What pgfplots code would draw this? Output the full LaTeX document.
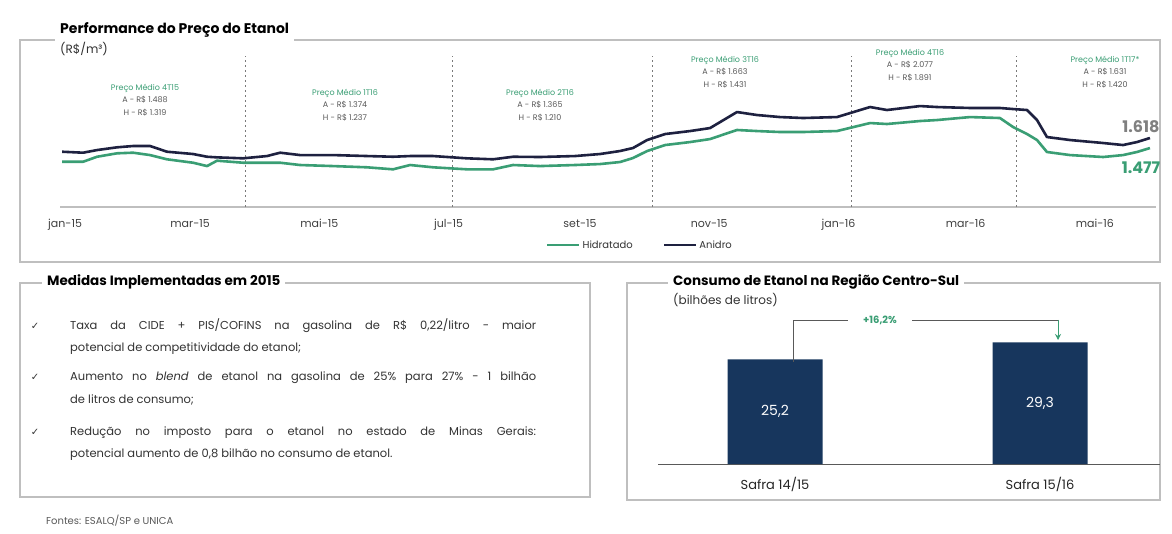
\documentclass[border=0pt]{standalone}
\usepackage{fontspec}
\setmainfont{Poppins}
\newfontfamily\dejavu{DejaVu Sans}
\usepackage{pgfplots}
\pgfplotsset{compat=1.18}
\usetikzlibrary{arrows.meta}

\definecolor{verde}{HTML}{3A9E74}
\definecolor{navy}{HTML}{1E2140}
\definecolor{barra}{HTML}{17365D}
\definecolor{cinza}{HTML}{595959}
\definecolor{borda}{HTML}{BFBFBF}

\newcommand{\fs}[1]{\fontsize{#1}{#1}\selectfont}
% quarter average prices
\newcommand{\preco}[5]{%
  \node[align=center, font=\fontsize{8}{12.5}\selectfont, text=cinza] at (#1,#2)
    {\textcolor{verde}{Preço Médio #3}\\ A - R\$ #4\\ H - R\$ #5};}

\begin{document}
\begin{tikzpicture}[x=1pt,y=1pt]
\fill[white] (0,0) rectangle (1172,533);

% ---------- top panel ----------
\draw[borda, line width=1.2pt] (20,271) rectangle (1160,493);
\node[anchor=west, fill=white, font=\bfseries\fs{14}, inner sep=5pt] at (55,503) {Performance do Preço do Etanol};
\node[anchor=west, font=\fs{12}, text=black!80, inner sep=0pt] at (60,484) {(R\$/m³)};

\begin{axis}[at={(60pt,326pt)}, anchor=south west, scale only axis,
  width=1096.3pt, height=157pt,
  xmin=-2.4, xmax=515, ymin=0.83, ymax=2.614,
  axis x line*=bottom, axis y line=none,
  x axis line style={draw=borda, line width=1.5pt, -},
  xtick={0,59,120,181,243,304,365,425,486},
  xticklabels={jan-15,mar-15,mai-15,jul-15,set-15,nov-15,jan-16,mar-16,mai-16},
  major tick length=0,
  tick label style={font=\fs{11}, text=black!75},
  xticklabel style={yshift=-9pt},
  clip=false,
  legend style={at={(0.529,-0.242)}, anchor=center, draw=none, fill=none,
    legend columns=2, font=\fs{10}, text=black!80,
    /tikz/every even column/.append style={column sep=28pt}},
  legend image code/.code={\draw[#1] (0pt,0pt) -- (32pt,0pt);},
]
\foreach \d in {85,183,277,371,449}{
  \edef\tmp{\noexpand\draw[cinza!80, line width=0.8pt, dash pattern=on 2pt off 3pt]
    (axis cs:\d,0.83) -- (axis cs:\d,2.55);}\tmp
}
\addplot[verde, line width=2.6pt, line join=round] coordinates {
(-1.4,1.344) (8.5,1.344) (15.1,1.401) (24.5,1.440) (32.1,1.447) (40.1,1.420)
(48.1,1.372) (60.4,1.333) (67.0,1.295) (71.7,1.356) (84.0,1.333) (95.3,1.333)
(101.5,1.333) (110.9,1.307) (126.5,1.295) (142.5,1.281) (154.8,1.258) (162.8,1.307)
(173.7,1.281) (189.7,1.258) (202.0,1.258) (211.4,1.307) (224.2,1.295) (240.7,1.307)
(252.5,1.318) (261.9,1.341) (268.0,1.386) (274.7,1.466) (283.2,1.534) (295.0,1.568)
(304.4,1.602) (317.1,1.705) (326.6,1.693) (337.4,1.682) (348.3,1.682) (364.3,1.693)
(379.9,1.784) (387.9,1.773) (403.5,1.807) (411.5,1.818) (427.1,1.852) (441.2,1.841)
(447.4,1.739) (454.0,1.659) (458.7,1.591) (463.4,1.455) (474.3,1.420) (489.9,1.398)
(499.3,1.420) (505.9,1.455) (512.0,1.500)
};
\addlegendentry{Hidratado}
\addplot[navy, line width=2.6pt, line join=round] coordinates {
(-1.4,1.458) (8.5,1.447) (15.1,1.477) (24.5,1.508) (32.1,1.523) (40.1,1.523)
(48.1,1.458) (60.4,1.432) (67.0,1.401) (71.7,1.394) (84.0,1.383) (95.3,1.409)
(101.5,1.447) (110.9,1.420) (126.5,1.420) (142.5,1.409) (154.8,1.401) (162.8,1.409)
(173.7,1.409) (189.7,1.383) (202.0,1.372) (211.4,1.401) (224.2,1.398) (240.7,1.409)
(252.5,1.432) (261.9,1.466) (268.0,1.500) (274.7,1.591) (283.2,1.659) (295.0,1.693)
(304.4,1.727) (317.1,1.909) (326.6,1.875) (337.4,1.852) (348.3,1.841) (364.3,1.852)
(379.9,1.966) (387.9,1.932) (403.5,1.977) (411.5,1.966) (427.1,1.955) (441.2,1.955)
(447.4,1.943) (454.0,1.932) (458.7,1.818) (463.4,1.625) (474.3,1.591) (489.9,1.557)
(499.3,1.534) (505.9,1.568) (512.0,1.614)
};
\addlegendentry{Anidro}
\end{axis}

\preco{145}{433}{4T15}{1.488}{1.319}
\preco{345}{428}{1T16}{1.374}{1.237}
\preco{540}{428}{2T16}{1.365}{1.210}
\preco{725}{461}{3T16}{1.663}{1.431}
\preco{910}{468}{4T16}{2.077}{1.891}
\preco{1105}{461}{1T17*}{1.631}{1.420}

\node[font=\bfseries\fs{16}, text=gray] at (1141,406) {1.618};
\node[font=\bfseries\fs{16}, text=verde] at (1141,365) {1.477};

% ---------- bottom-left panel ----------
\draw[borda, line width=1.2pt] (20,36) rectangle (590,250);
\node[anchor=west, fill=white, font=\bfseries\fs{13.5}, inner sep=5pt] at (42,251) {Medidas Implementadas em 2015};
\foreach \yy in {203,152,98}{
  \node[anchor=base, font=\dejavu\fs{10}, text=black!80] at (35,\yy) {✓};
}
\node[anchor=base west, inner sep=0pt, text width=466pt, align=justify,
      font=\fontsize{11.5}{22}\selectfont, text=black!80] at (70,203)
  {Taxa da CIDE + PIS/COFINS na gasolina de R\$ 0,22/litro - maior\linebreak potencial de competitividade do etanol;};
\node[anchor=base west, inner sep=0pt, text width=466pt, align=justify,
      font=\fontsize{11.5}{22}\selectfont, text=black!80] at (70,152)
  {Aumento no \textit{blend} de etanol na gasolina de 25\% para 27\% - 1 bilhão\linebreak de litros de consumo;};
\node[anchor=base west, inner sep=0pt, text width=466pt, align=justify,
      font=\fontsize{11.5}{22}\selectfont, text=black!80] at (70,98)
  {Redução no imposto para o etanol no estado de Minas Gerais:\linebreak potencial aumento de 0,8 bilhão no consumo de etanol.};

\node[anchor=west, font=\fs{10}, text=cinza, inner sep=0pt] at (46,12) {Fontes: ESALQ/SP e UNICA};

% ---------- bottom-right panel ----------
\draw[borda, line width=1.2pt] (627,33) rectangle (1160,250);
\node[anchor=west, fill=white, font=\bfseries\fs{13.5}, inner sep=5pt] at (668,251) {Consumo de Etanol na Região Centro-Sul};
\node[anchor=west, font=\fs{12}, text=black!80, inner sep=0pt] at (673,233) {(bilhões de litros)};

\begin{axis}[at={(658pt,69pt)}, anchor=south west, scale only axis,
  width=502pt, height=145.25pt,
  xmin=-0.4415, xmax=1.4528, ymin=0, ymax=35,
  axis x line*=bottom, axis y line=none,
  x axis line style={draw=cinza, line width=1pt, -},
  xtick={0,1}, xticklabels={Safra 14/15, Safra 15/16},
  major tick length=0,
  tick label style={font=\fs{13}, text=black!85},
  xticklabel style={yshift=-10pt},
  clip=false,
]
\addplot[ybar, bar width=95pt, fill=barra, draw=none] coordinates {(0,25.2) (1,29.3)};
\addplot[only marks, mark=none, nodes near coords, point meta=explicit symbolic,
  nodes near coords style={anchor=center, text=white, font=\fs{14}}]
  coordinates {(0,12.6) [{25,2}] (1,14.65) [{29,3}]};
\end{axis}

\draw[cinza, line width=0.8pt] (793,171) -- (793,213) -- (848,213);
\draw[cinza, line width=0.8pt] (912,213) -- (1058,213);
\draw[verde, line width=0.8pt, -{Stealth[length=6pt,width=6pt]}] (1058,213) -- (1058,193);
\node[font=\bfseries\fs{10}, text=verde] at (880,213) {+16,2\%};

\pgfresetboundingbox
\path[use as bounding box] (0,0) rectangle (1172,533);
\end{tikzpicture}
\end{document}
